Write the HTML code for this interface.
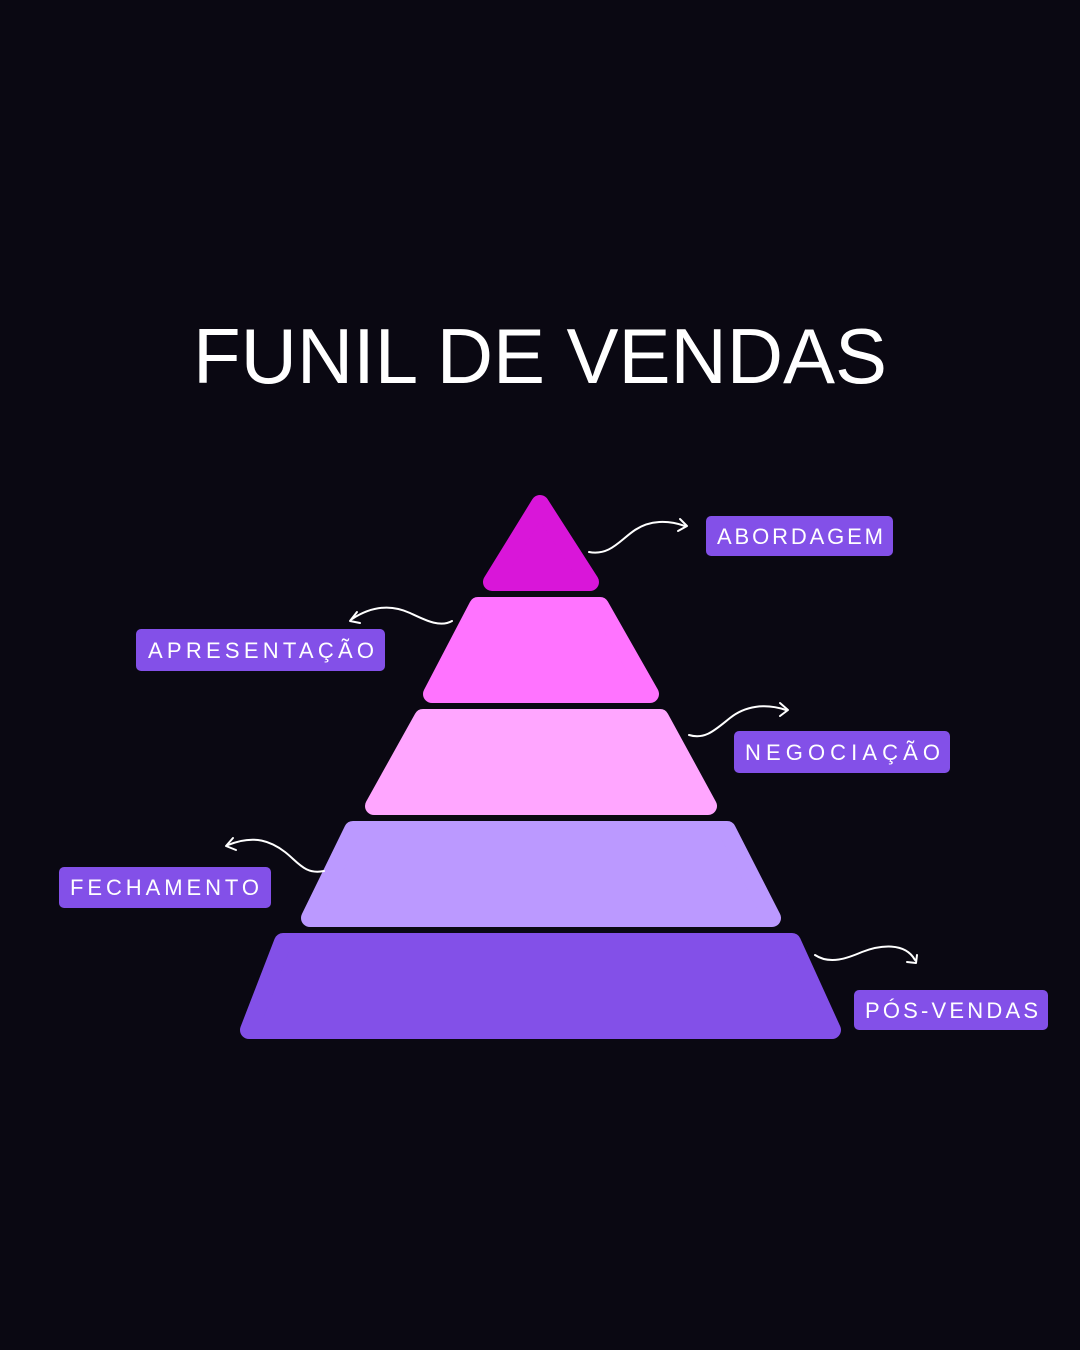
<!DOCTYPE html>
<html><head><meta charset="utf-8"><style>
html,body{margin:0;padding:0;background:#0a0812;}
svg{display:block}
</style></head><body>
<svg width="1080" height="1350" viewBox="0 0 1080 1350" xmlns="http://www.w3.org/2000/svg">
<rect width="1080" height="1350" fill="#0a0812"/>
<text x="193" y="383" font-family="Liberation Sans, sans-serif" font-size="78" fill="#fff" textLength="694" lengthAdjust="spacing">FUNIL DE VENDAS</text>
<g stroke-linejoin="round" stroke-width="18">
<polygon points="540,504 492,582 590,582" fill="#d916d9" stroke="#d916d9"/>
<polygon points="478,606 600,606 650,694 432,694" fill="#ff73ff" stroke="#ff73ff"/>
<polygon points="423,718 660,718 708,806 374,806" fill="#ffa6ff" stroke="#ffa6ff"/>
<polygon points="353,830 727,830 772,918 310,918" fill="#bb99ff" stroke="#bb99ff"/>
<polygon points="283,942 792,942 832,1030 249,1030" fill="#8350e8" stroke="#8350e8"/>
</g>
<g fill="none" stroke="#fff" stroke-width="2" stroke-linecap="round" stroke-linejoin="round">
<path d="M589,552 C610,556 620,540 635,530 C650,520 668,520 685,526"/>
<path d="M680,519 L687,526 L678,531"/>
<path d="M452,621 C440,628 425,620 410,613 C395,606 375,604 352,619"/>
<path d="M357,612 L350,621 L360,623"/>
<path d="M689,735 C705,740 715,730 730,718 C745,706 765,703 786,710"/>
<path d="M780,703 L788,710 L780,716"/>
<path d="M324,871 C305,875 298,862 285,852 C272,842 255,834 228,845"/>
<path d="M233,838 L226,846 L236,850"/>
<path d="M815,955 C830,965 848,958 862,952 C880,945 905,942 915,960"/>
<path d="M907,962 L916,963 L917,955"/>
</g>
<g fill="#8350e8">
<rect x="706" y="516" width="187" height="40" rx="5"/>
<rect x="136" y="629" width="249" height="42" rx="5"/>
<rect x="734" y="731" width="216" height="42" rx="5"/>
<rect x="59" y="867" width="212" height="41" rx="5"/>
<rect x="854" y="990" width="194" height="40" rx="5"/>
</g>
<g font-family="Liberation Sans, sans-serif" font-size="22" fill="#fff">
<text x="717" y="544" textLength="166" lengthAdjust="spacing">ABORDAGEM</text>
<text x="148" y="658" textLength="226" lengthAdjust="spacing">APRESENTAÇÃO</text>
<text x="745" y="760" textLength="195" lengthAdjust="spacing">NEGOCIAÇÃO</text>
<text x="70" y="895" textLength="189" lengthAdjust="spacing">FECHAMENTO</text>
<text x="865" y="1018" textLength="173" lengthAdjust="spacing">PÓS-VENDAS</text>
</g>
</svg>
</body></html>
